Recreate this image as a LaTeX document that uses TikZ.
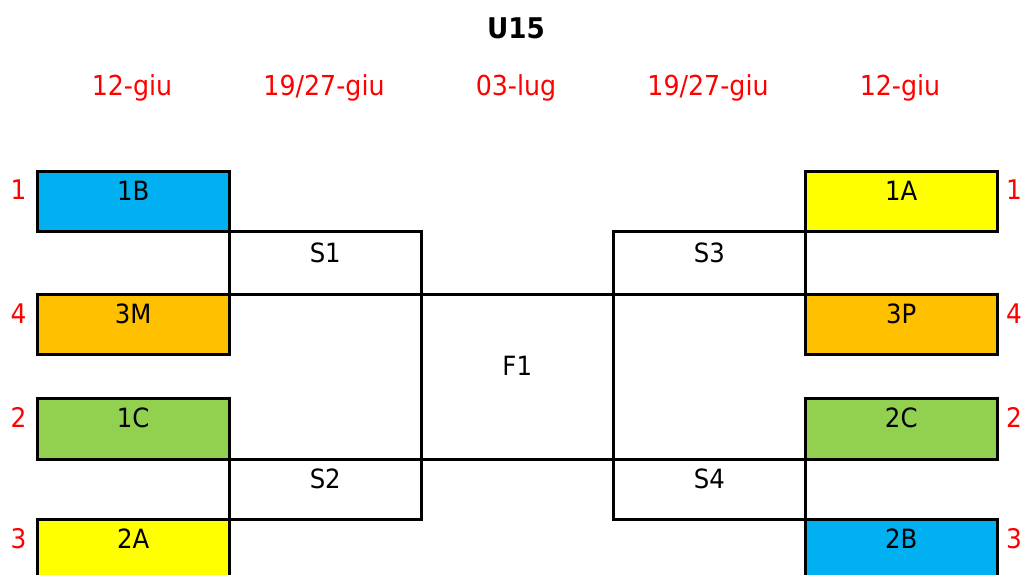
\documentclass[tikz,border=0pt]{standalone}
\usepackage{fontspec}
\setmainfont{DejaVu Sans}[FakeStretch=0.92]
\usepackage{xcolor}
\usepackage{tikz}
\usetikzlibrary{positioning}

\definecolor{sky}{HTML}{00B0F0}
\definecolor{lemon}{HTML}{FFFF00}
\definecolor{amber}{HTML}{FFC000}
\definecolor{leaf}{HTML}{92D050}

\begin{document}
\begin{tikzpicture}[
        x=1pt, y=-1pt,
        node distance=192pt,
        on grid,
        cell/.style={draw, line width=2.5pt, inner sep=0pt, minimum width=192pt,
            anchor=north west, text height=29.5pt, text depth=30.5pt,
            font=\fontsize{26.5}{30}\selectfont},
        day/.style={text=red, inner sep=0pt, font=\fontsize{27.5}{32}\selectfont},
        rank/.style={text=red, inner sep=0pt, anchor=base, font=\fontsize{27}{32}\selectfont}
    ]
        \useasboundingbox (0,0) rectangle (1024,574);
        \clip (0,0) rectangle (1024,574);

        \node[anchor=base, inner sep=0pt, font=\bfseries\fontsize{28.5}{32}\selectfont] (title) at (516,38) {U15};

        \node[day, anchor=base] (d1) at (132,95) {12-giu};
        \node[day] (d2) [right=of d1] {19/27-giu};
        \node[day] (d3) [right=of d2] {03-lug};
        \node[day] (d4) [right=of d3] {19/27-giu};
        \node[day] (d5) [right=of d4] {12-giu};

        \node[cell, fill=sky] (b1) at (36,170) {1B};
        \node[cell, text height=31.5pt, text depth=31.5pt] (s1) at (228,230) {S1};
        \node[cell, fill=amber] (m3) at (36,293) {3M};
        \node[cell, fill=leaf, text depth=31.5pt] (c1) at (36,397) {1C};
        \node[cell] (s2) at (228,458) {S2};
        \node[cell, fill=lemon] (a2) at (36,518) {2A};

        \node[cell, text height=81pt, text depth=84pt] (f1) at (420,293) {F1};

        \node[cell, fill=lemon] (a1) at (804,170) {1A};
        \node[cell, text height=31.5pt, text depth=31.5pt] (s3) at (612,230) {S3};
        \node[cell, fill=amber] (p3) at (804,293) {3P};
        \node[cell, fill=leaf, text depth=31.5pt] (c2) at (804,397) {2C};
        \node[cell] (s4) at (612,458) {S4};
        \node[cell, fill=sky] (b2) at (804,518) {2B};

        \node[rank] (l1) at (18.5,199.5) {1};
        \node[rank] (l4) at (18.5,323) {4};
        \node[rank] (l2) at (18.5,427) {2};
        \node[rank] (l3) at (18.5,548) {3};
        \node[rank] (r1) at (1014,199.5) {1};
        \node[rank] (r4) at (1014,323) {4};
        \node[rank] (r2) at (1014,427) {2};
        \node[rank] (r3) at (1014,548) {3};
    \end{tikzpicture}
\end{document}
